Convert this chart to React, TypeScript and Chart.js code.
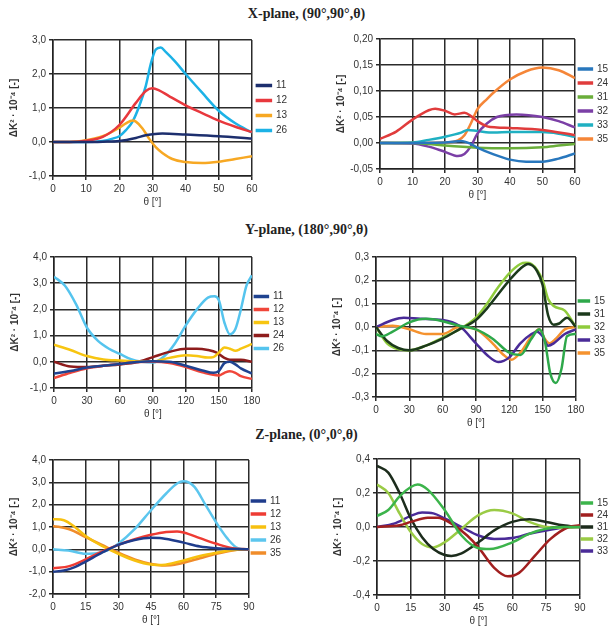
import React, { useEffect, useRef } from "react";
import { Chart, registerables } from "chart.js";
Chart.register(...registerables);

const FONT = "'Liberation Sans', Arial, sans-serif";
const Y_TITLE = "ΔK² · 10⁻⁴ [-]";
const X_TITLE = "θ [°]";

// ---------- X-plane, left ----------
const XL_11 = [[0,0],[10,0],[15,0.01],[20,0.03],[25,0.12],[28,0.2],[30,0.23],[33,0.25],[40,0.22],[50,0.17],[60,0.1]];
const XL_12 = [[0,0],[5,0],[10,0.04],[15,0.15],[20,0.5],[25,1.15],[28,1.5],[30,1.58],[32,1.52],[35,1.35],[40,1.08],[45,0.85],[50,0.63],[55,0.45],[60,0.29]];
const XL_13 = [[0,0],[5,0],[10,0.05],[15,0.17],[20,0.42],[22,0.55],[24,0.63],[25,0.6],[27,0.4],[29,0.1],[31,-0.15],[33,-0.32],[36,-0.5],[40,-0.59],[45,-0.62],[50,-0.58],[55,-0.5],[60,-0.42]];
const XL_26 = [[0,0],[10,0],[15,0.03],[18,0.1],[20,0.17],[22,0.35],[24,0.6],[26,1.05],[28,1.65],[29.5,2.3],[31,2.72],[32.5,2.78],[34,2.65],[37,2.35],[40,2.0],[45,1.45],[50,0.92],[55,0.55],[60,0.28]];

// ---------- X-plane, right ----------
const XR_15 = [[0,0],[20,0.001],[25,0.004],[28,-0.002],[30,-0.009],[35,-0.022],[40,-0.032],[45,-0.036],[50,-0.036],[55,-0.03],[60,-0.02]];
const XR_24 = [[0,0.008],[5,0.022],[10,0.045],[15,0.063],[17,0.066],[20,0.062],[23,0.055],[26,0.058],[28,0.052],[30,0.042],[33,0.032],[36,0.03],[40,0.029],[50,0.025],[60,0.015]];
const XR_31 = [[0,0],[10,0],[15,-0.002],[20,-0.005],[30,-0.009],[40,-0.01],[50,-0.008],[55,-0.005],[60,-0.002]];
const XR_32 = [[0,0],[10,-0.001],[15,-0.007],[20,-0.017],[24,-0.025],[26,-0.021],[28,-0.006],[30,0.018],[33,0.038],[36,0.05],[42,0.055],[50,0.05],[55,0.042],[60,0.03]];
const XR_33 = [[0,0],[10,0.001],[15,0.006],[20,0.012],[25,0.02],[27,0.025],[30,0.023],[35,0.02],[40,0.021],[50,0.021],[55,0.018],[60,0.012]];
const XR_35 = [[0,0],[20,0.001],[24,0.005],[26,0.015],[28,0.038],[30,0.065],[33,0.085],[35,0.097],[40,0.122],[45,0.138],[50,0.145],[55,0.14],[60,0.125]];

// ---------- Y-plane, left ----------
const YL_11 = [[0,-0.45],[15,-0.35],[30,-0.22],[45,-0.15],[60,-0.08],[75,-0.01],[90,0.02],[105,0],[120,-0.15],[135,-0.33],[145,-0.42],[150,-0.35],[155,-0.05],[160,0],[165,-0.1],[170,-0.25],[180,-0.45]];
const YL_12 = [[0,-0.62],[15,-0.42],[30,-0.25],[45,-0.15],[60,-0.08],[75,-0.01],[90,0],[105,-0.05],[120,-0.2],[135,-0.4],[150,-0.52],[155,-0.42],[160,-0.36],[165,-0.42],[170,-0.55],[180,-0.65]];
const YL_13 = [[0,0.65],[15,0.45],[30,0.22],[45,0.09],[60,0.05],[75,0.02],[90,0.02],[105,0.15],[120,0.25],[130,0.22],[140,0.16],[145,0.18],[150,0.35],[155,0.55],[160,0.5],[165,0.42],[170,0.5],[180,0.68]];
const YL_24 = [[0,0],[15,-0.18],[30,-0.2],[45,-0.15],[60,-0.1],[75,-0.02],[90,0.18],[105,0.38],[120,0.5],[130,0.5],[140,0.45],[148,0.35],[155,0.15],[160,0.08],[170,0.08],[180,0]];
const YL_26 = [[0,3.25],[10,2.9],[20,2.2],[30,1.3],[40,0.8],[50,0.5],[60,0.3],[70,0.1],[80,0],[90,-0.03],[100,0.2],[110,0.7],[120,1.4],[130,2.0],[140,2.45],[146,2.5],[150,2.35],[155,1.5],[160,1.05],[165,1.25],[170,2.0],[175,2.9],[180,3.3]];

// ---------- Y-plane, right ----------
const YR_15 = [[0,-0.03],[5,-0.04],[15,-0.02],[30,0.02],[45,0.035],[60,0.025],[75,0.005],[90,-0.01],[105,-0.05],[120,-0.11],[130,-0.12],[140,-0.05],[147,-0.01],[152,-0.06],[157,-0.2],[162,-0.24],[167,-0.18],[172,-0.04],[180,-0.03]];
const YR_31 = [[0,0],[10,-0.06],[20,-0.09],[30,-0.1],[45,-0.08],[60,-0.05],[75,-0.01],[90,0.03],[100,0.08],[110,0.14],[120,0.2],[130,0.25],[137,0.27],[145,0.24],[150,0.18],[155,0.05],[160,0.01],[165,0.015],[172,0.04],[180,0]];
const YR_32 = [[0,0],[10,-0.07],[20,-0.095],[30,-0.1],[45,-0.08],[60,-0.045],[75,-0.01],[90,0.04],[100,0.1],[110,0.17],[120,0.23],[130,0.27],[135,0.275],[140,0.27],[150,0.2],[155,0.12],[160,0.09],[170,0.07],[180,0]];
const YR_33 = [[0,0],[15,0.03],[25,0.04],[40,0.035],[60,0.03],[75,0.005],[90,-0.07],[100,-0.12],[110,-0.15],[120,-0.13],[130,-0.07],[140,-0.03],[145,-0.02],[150,-0.04],[155,-0.08],[160,-0.07],[170,-0.03],[180,-0.01]];
const YR_35 = [[0,0],[15,0.005],[30,-0.01],[45,-0.03],[60,-0.03],[75,0],[90,-0.01],[105,-0.07],[115,-0.12],[122,-0.14],[130,-0.11],[140,-0.04],[147,-0.01],[152,-0.05],[156,-0.07],[162,-0.05],[170,-0.01],[180,0]];

// ---------- Z-plane, left ----------
const ZL_11 = [[0,-1.0],[5,-0.95],[10,-0.8],[15,-0.55],[22.5,-0.15],[30,0.2],[37.5,0.42],[45,0.52],[50,0.5],[60,0.3],[67.5,0.13],[75,0.05],[82.5,0.01],[90,0]];
const ZL_12 = [[0,-0.85],[7.5,-0.75],[15,-0.45],[22.5,-0.1],[30,0.2],[37.5,0.45],[45,0.65],[52,0.78],[57,0.8],[60,0.75],[67.5,0.5],[75,0.25],[82.5,0.05],[90,0]];
const ZL_13 = [[0,1.35],[5,1.3],[10,1.0],[15,0.6],[22.5,0.15],[30,-0.2],[37.5,-0.5],[45,-0.68],[50,-0.7],[55,-0.62],[60,-0.5],[67.5,-0.3],[75,-0.15],[82.5,-0.03],[90,0]];
const ZL_26 = [[0,0],[7,-0.05],[15,-0.2],[20,-0.18],[25,-0.05],[30,0.25],[37.5,0.9],[45,1.75],[52,2.5],[57,2.95],[60,3.05],[65,2.8],[70,2.0],[75,1.2],[80,0.5],[85,0.05],[90,0]];
const ZL_35 = [[0,1.05],[7.5,0.9],[15,0.55],[22.5,0.2],[30,-0.15],[37.5,-0.45],[45,-0.65],[50,-0.72],[55,-0.7],[60,-0.6],[67.5,-0.4],[75,-0.2],[82.5,-0.05],[90,0]];

// ---------- Z-plane, right ----------
const ZR_15 = [[0,0.065],[5,0.1],[10,0.18],[15,0.235],[18,0.25],[22.5,0.22],[30,0.1],[37.5,-0.05],[45,-0.125],[50,-0.13],[60,-0.09],[67.5,-0.04],[75,-0.01],[82.5,0],[90,0]];
const ZR_24 = [[0,0],[10,0.01],[15,0.03],[22.5,0.055],[27,0.055],[33,0.02],[40,-0.05],[45,-0.12],[52,-0.24],[58,-0.29],[63,-0.27],[70,-0.17],[77,-0.07],[85,0],[90,0.01]];
const ZR_31 = [[0,0.36],[5,0.32],[10,0.2],[15,0.05],[20,-0.06],[25,-0.13],[30,-0.165],[33,-0.17],[37.5,-0.155],[45,-0.09],[52,-0.02],[60,0.03],[67.5,0.045],[75,0.03],[82.5,0.01],[90,0]];
const ZR_32 = [[0,0.25],[5,0.2],[10,0.08],[15,-0.03],[20,-0.1],[25,-0.12],[30,-0.09],[37.5,-0.01],[45,0.07],[52,0.1],[60,0.08],[67.5,0.03],[75,0],[82.5,-0.005],[90,0]];
const ZR_33 = [[0,0],[7.5,0.02],[15,0.065],[20,0.085],[25,0.08],[30,0.05],[37.5,0],[45,-0.05],[52,-0.07],[60,-0.065],[67.5,-0.04],[75,-0.02],[82.5,-0.005],[90,0]];

type Series = { label: string; color: string; pts: number[][] };
type PanelCfg = {
  left: number; top: number; width: number; height: number;
  xMax: number; xStep: number; yMin: number; yMax: number; yStep: number; dec: number;
  legBox: number; legPad: number;
  series: Series[];
};

const PANELS: PanelCfg[] = [
  { left: 8, top: 31, width: 289, height: 177, xMax: 60, xStep: 10, yMin: -1, yMax: 3, yStep: 1, dec: 1, legBox: 14, legPad: 5,
    series: [
      { label: "11", color: "#1d2f6e", pts: XL_11 },
      { label: "12", color: "#e8383d", pts: XL_12 },
      { label: "13", color: "#f7a823", pts: XL_13 },
      { label: "26", color: "#1cb2e6", pts: XL_26 },
    ] },
  { left: 335, top: 30, width: 283, height: 171, xMax: 60, xStep: 10, yMin: -0.05, yMax: 0.2, yStep: 0.05, dec: 2, legBox: 13, legPad: 4,
    series: [
      { label: "15", color: "#2877bd", pts: XR_15 },
      { label: "24", color: "#e03c3c", pts: XR_24 },
      { label: "31", color: "#6aae3a", pts: XR_31 },
      { label: "32", color: "#7b3fa6", pts: XR_32 },
      { label: "33", color: "#1fb0c2", pts: XR_33 },
      { label: "35", color: "#f58638", pts: XR_35 },
    ] },
  { left: 9, top: 248, width: 285, height: 172, xMax: 180, xStep: 30, yMin: -1, yMax: 4, yStep: 1, dec: 1, legBox: 13, legPad: 3,
    series: [
      { label: "11", color: "#1f4390", pts: YL_11 },
      { label: "12", color: "#f0463a", pts: YL_12 },
      { label: "13", color: "#f7c511", pts: YL_13 },
      { label: "24", color: "#8e1c1c", pts: YL_24 },
      { label: "26", color: "#55c4ee", pts: YL_26 },
    ] },
  { left: 331, top: 248, width: 284, height: 181, xMax: 180, xStep: 30, yMin: -0.3, yMax: 0.3, yStep: 0.1, dec: 1, legBox: 10, legPad: 3,
    series: [
      { label: "15", color: "#2ea84a", pts: YR_15 },
      { label: "31", color: "#1c3a1c", pts: YR_31 },
      { label: "32", color: "#8fcb3c", pts: YR_32 },
      { label: "33", color: "#4a2b98", pts: YR_33 },
      { label: "35", color: "#f5922e", pts: YR_35 },
    ] },
  { left: 8, top: 451, width: 283, height: 175, xMax: 90, xStep: 15, yMin: -2, yMax: 4, yStep: 1, dec: 1, legBox: 13, legPad: 3,
    series: [
      { label: "11", color: "#1f3c8c", pts: ZL_11 },
      { label: "12", color: "#ee3b33", pts: ZL_12 },
      { label: "13", color: "#f7c00f", pts: ZL_13 },
      { label: "26", color: "#5cc6ee", pts: ZL_26 },
      { label: "35", color: "#f08c2a", pts: ZL_35 },
    ] },
  { left: 332, top: 450, width: 286, height: 177, xMax: 90, xStep: 15, yMin: -0.4, yMax: 0.4, yStep: 0.2, dec: 1, legBox: 10, legPad: 2,
    series: [
      { label: "15", color: "#3cb44b", pts: ZR_15 },
      { label: "24", color: "#a11f1f", pts: ZR_24 },
      { label: "31", color: "#1c2c1c", pts: ZR_31 },
      { label: "32", color: "#9acb45", pts: ZR_32 },
      { label: "33", color: "#4a2b98", pts: ZR_33 },
    ] },
];

const TITLES = [
  { text: "X-plane, (90°,90°,θ)", top: 5 },
  { text: "Y-plane, (180°,90°,θ)", top: 221 },
  { text: "Z-plane, (0°,0°,θ)", top: 426 },
];

function Panel({ cfg }: { cfg: PanelCfg }) {
  const ref = useRef<HTMLCanvasElement | null>(null);
  useEffect(() => {
    if (!ref.current) return;
    const font = { family: FONT, size: 10 };
    const gridColor = "#2b2b2b";
    const chart = new Chart(ref.current, {
      type: "line",
      data: {
        datasets: cfg.series.map((s) => ({
          label: s.label,
          data: s.pts.map((p) => ({ x: p[0], y: p[1] })),
          borderColor: s.color,
          backgroundColor: s.color,
          borderWidth: 2.5,
          pointRadius: 0,
          cubicInterpolationMode: "monotone" as const,
          fill: false,
        })),
      },
      options: {
        responsive: false,
        animation: false,
        devicePixelRatio: 1,
        layout: { padding: { top: 8, left: 0, right: 0, bottom: 0 } },
        plugins: {
          legend: {
            position: "right",
            fullSize: false,
            labels: { boxWidth: cfg.legBox, boxHeight: 1, padding: cfg.legPad, color: "#333", font },
          },
          tooltip: { enabled: false },
        },
        scales: {
          x: {
            type: "linear",
            min: 0,
            max: cfg.xMax,
            ticks: { stepSize: cfg.xStep, color: "#333", font, padding: 3, maxRotation: 0 },
            grid: { color: gridColor, lineWidth: 1.5, tickLength: 4 },
            border: { color: "#222", width: 1.5 },
            title: { display: true, text: X_TITLE, color: "#333", font, padding: 0 },
            afterFit: (s: any) => { s.height = 32; },
          },
          y: {
            type: "linear",
            min: cfg.yMin,
            max: cfg.yMax,
            ticks: {
              stepSize: cfg.yStep,
              color: "#333",
              font,
              padding: 3,
              callback: (v: any) => Number(v).toFixed(cfg.dec).replace(".", ","),
            },
            grid: { color: gridColor, lineWidth: 1.5, tickLength: 4 },
            border: { color: "#222", width: 1.5 },
            title: { display: true, text: Y_TITLE, color: "#333", font: { family: FONT, size: 10, weight: "bold" }, padding: 0 },
            afterFit: (s: any) => { s.width = 45; },
          },
        },
      },
    } as any);
    return () => chart.destroy();
  }, [cfg]);
  return (
    <canvas
      ref={ref}
      width={cfg.width}
      height={cfg.height}
      style={{ position: "absolute", left: cfg.left, top: cfg.top, width: cfg.width, height: cfg.height }}
    />
  );
}

export default function App() {
  return (
    <div style={{ position: "fixed", left: 0, top: 0, width: 613, height: 627, background: "#fff", overflow: "hidden" }}>
      {TITLES.map((t) => (
        <div
          key={t.text}
          style={{
            position: "absolute", left: 0, top: t.top, width: 613, textAlign: "center",
            fontFamily: "'Liberation Serif', 'Times New Roman', serif", fontWeight: "bold", fontSize: 14,
            color: "#222", lineHeight: "18px",
          }}
        >
          {t.text}
        </div>
      ))}
      {PANELS.map((p, i) => (
        <Panel key={i} cfg={p} />
      ))}
    </div>
  );
}
